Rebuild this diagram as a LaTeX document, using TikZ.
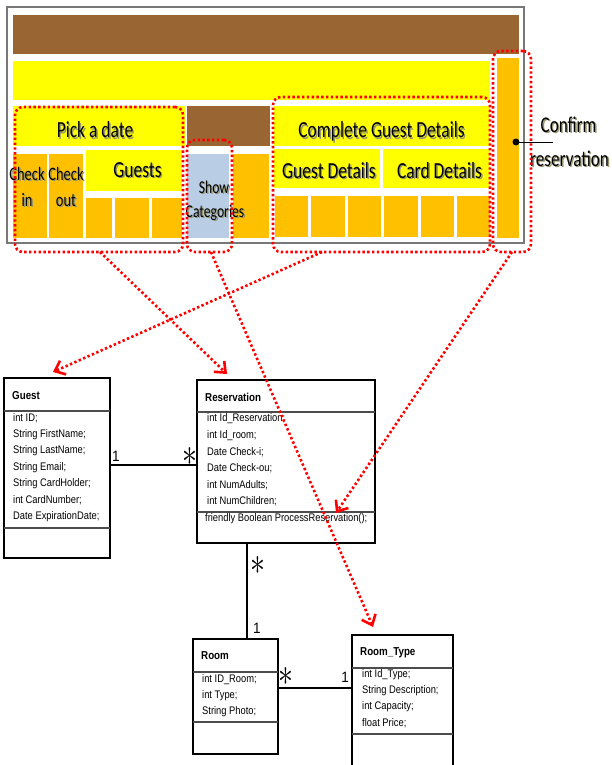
\documentclass[tikz,border=0pt]{standalone}
\usepackage{fontspec}
\setmainfont[FakeStretch=0.76]{Carlito}
\newfontfamily\umlfont[FakeStretch=0.85]{Liberation Sans}
\newfontfamily\multfont[FakeStretch=0.9]{Liberation Sans}
\usetikzlibrary{arrows.meta,fit,calc}

\definecolor{panebrown}{RGB}{153,102,51}
\definecolor{paneyellow}{RGB}{255,255,0}
\definecolor{paneorange}{RGB}{255,192,0}
\definecolor{paneblue}{RGB}{185,205,229}
\definecolor{framegray}{RGB}{120,120,120}
\definecolor{textshade}{RGB}{150,150,110}

% filled block of the screen mock-up, given by two corners
\newcommand\uiblock[4]{\node[blockstyle, fill=#4, fit={(#2) (#3)}] (#1) {};}
% screen label (placed on its baseline) with a soft drop shadow behind it
\newcommand\uilabel[4]{%
  \node[uitext, font=\fontsize{#3}{#3}\selectfont] (#1) at (#2)
    {\makebox[0pt][l]{\hspace{1.4pt}\raisebox{-1.8pt}{\color{textshade}#4}}#4};}
% "many" multiplicity mark
\newcommand\manymark{\scalebox{1.2}[1.55]{$\ast$}}

\begin{document}
\begin{tikzpicture}[x=1pt,y=-1pt,
  blockstyle/.style={inner sep=0pt, outer sep=0pt, draw=none},
  uitext/.style={inner sep=0pt, anchor=base},
  area/.style={draw=red, line width=2.6pt, dash pattern=on 2.4pt off 2.4pt,
    rounded corners=8pt, inner sep=0pt, outer sep=0pt},
  link/.style={draw=red, line width=2.6pt, dash pattern=on 2.4pt off 2.4pt,
    -{Straight Barb[length=9pt,width=15pt]}},
  umlbox/.style={draw=black, line width=1.5pt, fill=white, inner sep=0pt, outer sep=0pt},
  umlsep/.style={draw=black!70, line width=1.1pt},
  umltitle/.style={anchor=west, inner sep=0pt, font=\umlfont\bfseries\fontsize{11.5}{13}\selectfont},
  umlattr/.style={anchor=west, inner sep=0pt, font=\umlfont\fontsize{11}{12}\selectfont},
  assoc/.style={draw=black, line width=1.5pt},
  mult/.style={inner sep=0pt, font=\multfont\fontsize{15}{16}\selectfont},
  star/.style={inner sep=0pt, font=\fontsize{24}{24}\selectfont}]

\useasboundingbox (0,0) rectangle (612,765);

% ---------------- screen mock-up ----------------
\uiblock{topbar}{13,15}{519,54}{panebrown}
\uiblock{navbar}{13,61}{490,100}{paneyellow}
\uiblock{confirmcol}{497,58}{519,238}{paneorange}

\uiblock{pickdate}{13,106}{185,146}{paneyellow}
\uiblock{checkin}{13,154}{47,238}{paneorange}
\uiblock{checkout}{49,154}{83,238}{paneorange}
\uiblock{guests}{86,150}{182,191}{paneyellow}
\uiblock{gbox1}{86,198}{112,238}{paneorange}
\uiblock{gbox2}{115,198}{149,238}{paneorange}
\uiblock{gbox3}{152,198}{182,238}{paneorange}

\uiblock{midbar}{187,106}{270,146}{panebrown}
\uiblock{showcat}{187,154}{229,238}{paneblue}
\uiblock{catside}{233,154}{269,238}{paneorange}

\uiblock{complete}{274,106}{490,146}{paneyellow}
\uiblock{guestdet}{274,149}{380,188}{paneyellow}
\uiblock{carddet}{383,149}{490,188}{paneyellow}
\uiblock{dbox1}{275,196}{308,237}{paneorange}
\uiblock{dbox2}{311,196}{345,237}{paneorange}
\uiblock{dbox3}{348,196}{381,237}{paneorange}
\uiblock{dbox4}{384,196}{418,237}{paneorange}
\uiblock{dbox5}{421,196}{454,237}{paneorange}
\uiblock{dbox6}{457,196}{490,237}{paneorange}

\node[draw=framegray, line width=1.3pt, inner sep=0pt, fit={(7,7) (524,243)}] (frame) {};

\uilabel{lpick}{95,138}{23}{Pick a date}
\uilabel{lcheck1}{27,180}{19}{Check}
\uilabel{lin}{27,206}{19}{in}
\uilabel{lcheck2}{66,180}{19}{Check}
\uilabel{lout}{66,206}{19}{out}
\uilabel{lguests}{137.5,177}{23}{Guests}
\uilabel{lshow}{214,193}{18}{Show}
\uilabel{lcat}{215,217}{18}{Categories}
\uilabel{lcomplete}{381.5,138}{23}{Complete Guest Details}
\uilabel{lguestdet}{329,178}{23}{Guest Details}
\uilabel{lcarddet}{439.5,178}{23}{Card Details}
\uilabel{lconfirm}{568.5,132}{22.5}{Confirm}
\uilabel{lreserv}{569.5,166}{22.5}{reservation}

\node[circle, fill=black, inner sep=0pt, minimum size=7pt] (cdot) at (516,142) {};
\coordinate (cend) at (553,142);
\draw[line width=1pt] (cdot.center) -- (cend);

% dotted groupings of the screen
\node[area, fit={(15,107) (183,252)}] (pickarea) {};
\node[area, fit={(187,140) (232,252)}] (showarea) {};
\node[area, fit={(273,97) (490,252)}] (guestarea) {};
\node[area, fit={(493,51) (531,252)}] (confarea) {};

% ---------------- class diagram ----------------
\node[umlbox, fit={(4,378) (110,558)}] (guest) {};
\draw[umlsep] (guest.west |- 0,411) -- (guest.east |- 0,411);
\draw[umlsep] (guest.west |- 0,528) -- (guest.east |- 0,528);
\node[umltitle] (guest-t) at (12,396) {Guest};
\foreach \t [count=\i] in {int ID;, String FirstName;, String LastName;, String Email;,
    String CardHolder;, int CardNumber;, Date ExpirationDate;}
  \node[umlattr] (guest-a\i) at (13,{401.5+16.5*\i}) {\t};

\node[umlbox, fit={(197,380) (375,543)}] (res) {};
\draw[umlsep] (res.west |- 0,412) -- (res.east |- 0,412);
\draw[umlsep] (res.west |- 0,512) -- (res.east |- 0,512);
\node[umltitle] (res-t) at (205,397) {Reservation};
\foreach \t [count=\i] in {int Id\_Reservation;, int Id\_room;, Date Check-i;,
    Date Check-ou;, int NumAdults;, int NumChildren;}
  \node[umlattr] (res-a\i) at (207,{402.5+16.5*\i}) {\t};
\node[umlattr] (res-m1) at (205,519) {friendly Boolean ProcessReservation();};

\node[umlbox, fit={(193,639) (278,754)}] (room) {};
\draw[umlsep] (room.west |- 0,672) -- (room.east |- 0,672);
\draw[umlsep] (room.west |- 0,722) -- (room.east |- 0,722);
\node[umltitle] (room-t) at (201,656) {Room};
\foreach \t [count=\i] in {int ID\_Room;, int Type;, String Photo;}
  \node[umlattr] (room-a\i) at (202,{663+16.3*\i}) {\t};

\node[umlbox, fit={(352,635) (453,768)}] (rtype) {};
\draw[umlsep] (rtype.west |- 0,668) -- (rtype.east |- 0,668);
\draw[umlsep] (rtype.west |- 0,734) -- (rtype.east |- 0,734);
\node[umltitle] (rtype-t) at (360,653) {Room\_Type};
\foreach \t [count=\i] in {int Id\_Type;, String Description;, int Capacity;, float Price;}
  \node[umlattr] (rtype-a\i) at (362,{659+16*\i}) {\t};

% associations
\coordinate (gr) at (0,465);
\coordinate (rr) at (247,0);
\coordinate (rt) at (0,688);
\draw[assoc] (guest.east |- gr) -- (res.west |- gr);
\draw[assoc] (res.south -| rr) -- (room.north -| rr);
\draw[assoc] (room.east |- rt) -- (rtype.west |- rt);

\node[mult] (m1) at (116,456) {1};
\node[star] (m2) at (190,457) {\manymark};
\node[star] (m3) at (258,566) {\manymark};
\node[mult] (m4) at (257,628) {1};
\node[star] (m5) at (286,677) {\manymark};
\node[mult] (m6) at (345,677) {1};

% ---------------- mapping arrows ----------------
\coordinate (resin) at (227,374);
\coordinate (guestin) at (53,372);
\coordinate (rtin) at (373,627);
\coordinate (procin) at (336,513);
\draw[link] (pickarea.south -| 100,0) -- (resin);
\draw[link] (guestarea.south -| 322,0) -- (guestin);
\draw[link] (showarea.south -| 211,0) -- (rtin);
\draw[link] (confarea.south -| 512,0) -- (procin);
\end{tikzpicture}
\end{document}
